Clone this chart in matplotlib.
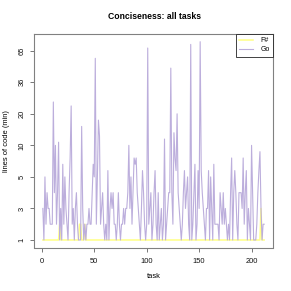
import numpy as np
import matplotlib
matplotlib.use("Agg")
import matplotlib.pyplot as plt

plt.rcParams['font.family'] = ['Liberation Sans', 'DejaVu Sans']

title = "Conciseness: all tasks"
xlabel = "task"
ylabel = "lines of code (min)"
ytick_vals = [1, 3, 5, 10, 20, 36, 65]
xtick_vals = [0, 50, 100, 150, 200]
series_names = ["F#", "Go"]

go = [3, 1, 5, 2, 4, 3, 3, 2, 2, 2, 26, 4, 10, 2, 4, 11, 1, 3, 1, 7,
      2, 5, 3, 2, 1, 4, 8, 24, 2, 3, 1, 3, 4, 2, 1, 1, 1, 16, 3, 1,
      2, 1, 2, 2, 3, 2, 2, 4, 7, 5, 58, 2, 5, 18, 13, 2, 3, 4, 2, 1,
      2, 1, 6, 1, 3, 4, 3, 4, 2, 2, 1, 2, 4, 2, 1, 2, 2, 3, 2, 3,
      3, 4, 10, 3, 5, 2, 4, 8, 7, 8, 4, 3, 2, 1, 3, 6, 4, 2, 1, 2,
      68, 2, 3, 4, 1, 2, 4, 6, 2, 1, 4, 1, 2, 3, 1, 2, 12, 1, 2, 3,
      4, 4, 49, 4, 2, 14, 8, 6, 20, 4, 3, 2, 1, 2, 4, 6, 3, 4, 5, 2,
      1, 72, 1, 2, 4, 7, 1, 2, 6, 3, 75, 6, 4, 3, 2, 1, 3, 3, 6, 1,
      5, 3, 1, 7, 2, 2, 2, 2, 1, 4, 3, 2, 4, 2, 3, 2, 1, 2, 1, 4,
      8, 1, 4, 6, 4, 2, 1, 4, 4, 4, 3, 8, 2, 4, 6, 1, 3, 2, 1, 10,
      4, 1, 1, 1, 2, 4, 6, 9, 3, 1, 2, 2]

fsharp = [1] * 212
for i, v in [(17, 2), (36, 2), (37, 2), (41, 2), (209, 3)]:
    fsharp[i - 1] = v

tasks = np.arange(1, len(go) + 1)

# custom axis: tick values equally spaced
knots_v = np.array([-1.0] + ytick_vals + [100.0])
knots_t = np.arange(-1, len(ytick_vals) + 1, dtype=float)

def fwd(v):
    return np.interp(v, knots_v, knots_t)

def inv(t):
    return np.interp(t, knots_t, knots_v)

fig = plt.figure(figsize=(2.91, 2.91), dpi=100)
ax = fig.add_axes([34 / 291, 1 - 247.5 / 291, (273 - 34) / 291, (247.5 - 34) / 291])
ax.set_yscale('function', functions=(fwd, inv))

ax.plot(tasks, fsharp, color='#ffff85', lw=1.1, label=series_names[0])
ax.plot(tasks, go, color='#bcaedc', lw=0.8, label=series_names[1])

n = len(go)
ax.set_xlim(1 - 0.04 * (n - 1), n + 0.04 * (n - 1))
ax.set_ylim(inv(-0.238), inv(6.53))

ax.set_yticks(ytick_vals)
ax.set_yticklabels([str(v) for v in ytick_vals], rotation=90, va='center')
ax.set_xticks(xtick_vals)
ax.minorticks_off()

for s in ax.spines.values():
    s.set_color('#808080')
    s.set_linewidth(0.8)

ax.tick_params(axis='both', length=2.6, width=0.6, color='#606060',
               labelsize=5.4, labelcolor='#111111')
ax.tick_params(axis='x', pad=5)
ax.tick_params(axis='y', pad=3.5)

ax.set_xlabel(xlabel, fontsize=5.4, labelpad=6)
ax.set_ylabel(ylabel, fontsize=5.4, labelpad=6)
fig.text(154 / 291, 1 - 16.7 / 291, title, fontsize=6.2, fontweight='bold',
         ha='center', va='center')

leg = ax.legend(loc='upper right', fontsize=5.0, borderaxespad=0,
                fancybox=False, framealpha=1, edgecolor='#222222',
                handlelength=2.0, handletextpad=1.0, borderpad=0.5,
                labelspacing=0.25)
leg.get_frame().set_linewidth(0.6)

fig.savefig('out.png', dpi=100)
